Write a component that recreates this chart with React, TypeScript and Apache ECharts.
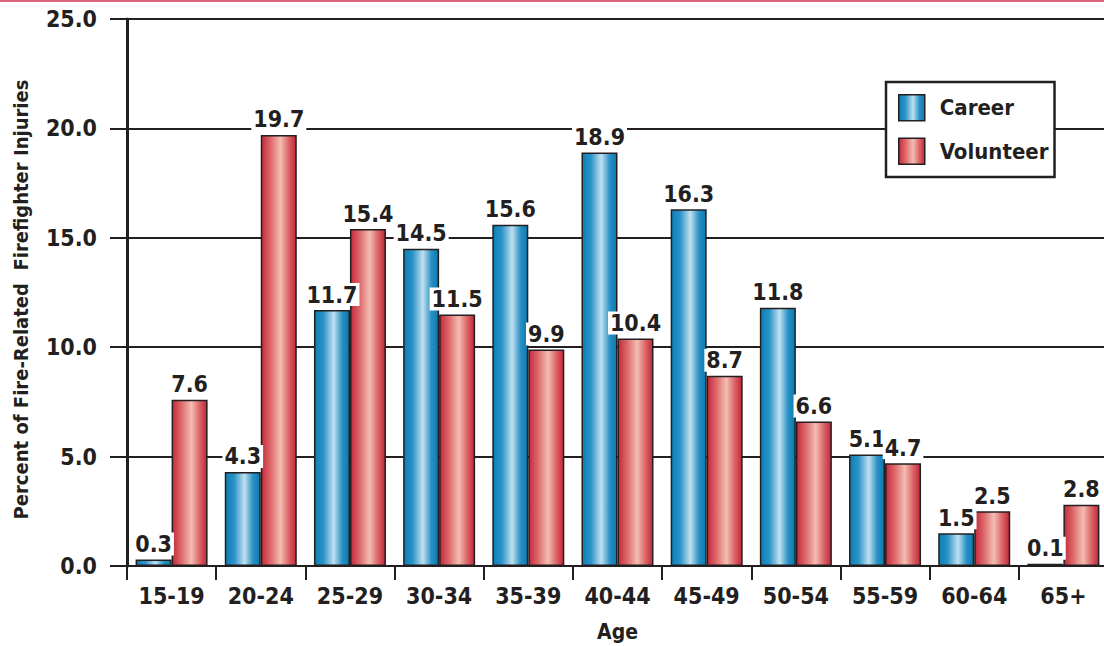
import React, { useEffect, useRef } from "react";
import * as echarts from "echarts";

// Share of fire-related firefighter injuries by age group (percent)
const ageGroups = ["15-19", "20-24", "25-29", "30-34", "35-39", "40-44", "45-49", "50-54", "55-59", "60-64", "65+"];
const career = [0.3, 4.3, 11.7, 14.5, 15.6, 18.9, 16.3, 11.8, 5.1, 1.5, 0.1];
const volunteer = [7.6, 19.7, 15.4, 11.5, 9.9, 10.4, 8.7, 6.6, 4.7, 2.5, 2.8];
const yTicks = [0, 5, 10, 15, 20, 25];

const FONT = '"DejaVu Sans Condensed", "Liberation Sans Narrow", sans-serif';
const INK = "#231f20";

const blueFill = new echarts.graphic.LinearGradient(0, 0, 1, 0, [
  { offset: 0, color: "#0b7fb7" },
  { offset: 0.25, color: "#2a93c7" },
  { offset: 0.55, color: "#c0e0f0" },
  { offset: 0.8, color: "#2890c4" },
  { offset: 1, color: "#0a7ab1" },
]);
const redFill = new echarts.graphic.LinearGradient(0, 0, 1, 0, [
  { offset: 0, color: "#c52a3b" },
  { offset: 0.25, color: "#dc6668" },
  { offset: 0.55, color: "#f3bdb3" },
  { offset: 0.8, color: "#da6163" },
  { offset: 1, color: "#c2263a" },
]);

const valueLabel = {
  show: true,
  position: "top" as const,
  distance: 4,
  formatter: (p: any) => Number(p.value).toFixed(1),
  color: INK,
  fontFamily: FONT,
  fontWeight: "bold" as const,
  fontSize: 23,
  backgroundColor: "#ffffff",
  padding: [0, 2, 0, 2],
};

export default function App() {
  const ref = useRef<HTMLDivElement>(null);

  useEffect(() => {
    if (!ref.current) return;
    const chart = echarts.init(ref.current, undefined, { renderer: "svg" });
    chart.setOption({
      animation: false,
      backgroundColor: "#ffffff",
      textStyle: { fontFamily: FONT, fontWeight: "bold", color: INK },
      graphic: [
        {
          type: "line",
          shape: { x1: 0, y1: 1, x2: 1104, y2: 1 },
          style: { stroke: "#e0667f", lineWidth: 2 },
        },
      ],
      grid: { left: 127, top: 19, width: 981, height: 547, outerBoundsMode: "none", containLabel: false },
      legend: {
        orient: "vertical",
        left: 886,
        top: 82,
        padding: [12, 6, 12, 12],
        itemWidth: 26,
        itemHeight: 26,
        itemGap: 16,
        backgroundColor: "#ffffff",
        borderColor: INK,
        borderWidth: 2.5,
        icon: "rect",
        textStyle: {
          fontFamily: FONT,
          fontWeight: "bold",
          fontSize: 22,
          color: INK,
          padding: [0, 0, 0, 10],
        },
        data: [
          { name: "Career", itemStyle: { color: blueFill, borderColor: INK, borderWidth: 1.5 } },
          { name: "Volunteer", itemStyle: { color: redFill, borderColor: INK, borderWidth: 1.5 } },
        ],
      },
      xAxis: {
        type: "category",
        data: ageGroups,
        name: "Age",
        nameLocation: "middle",
        nameGap: 55,
        nameTextStyle: { fontFamily: FONT, fontWeight: "bold", fontSize: 21, color: INK },
        axisLine: { lineStyle: { color: INK, width: 2 } },
        axisTick: { show: true, length: 14, lineStyle: { color: INK, width: 2 } },
        axisLabel: { margin: 18, fontFamily: FONT, fontWeight: "bold", fontSize: 23, color: INK },
      },
      yAxis: {
        type: "value",
        min: yTicks[0],
        max: yTicks[yTicks.length - 1],
        interval: 5,
        name: "Percent of Fire-Related  Firefighter Injuries",
        nameLocation: "middle",
        nameGap: 96,
        nameTextStyle: { fontFamily: FONT, fontWeight: "bold", fontSize: 20, color: INK, padding: [0, 14, 0, 0] },
        axisLine: { show: true, lineStyle: { color: INK, width: 3 } },
        axisTick: { show: true, length: 17, lineStyle: { color: INK, width: 2 } },
        splitLine: { show: true, lineStyle: { color: INK, width: 2 } },
        axisLabel: {
          margin: 30,
          formatter: (v: number) => v.toFixed(1),
          fontFamily: FONT,
          fontWeight: "bold",
          fontSize: 23,
          color: INK,
        },
      },
      series: [
        {
          name: "Career",
          type: "bar",
          data: career,
          barWidth: 36,
          barGap: "0%",
          itemStyle: { color: blueFill, borderColor: INK, borderWidth: 1.5 },
          label: valueLabel,
        },
        {
          name: "Volunteer",
          type: "bar",
          data: volunteer,
          barWidth: 36,
          barGap: "0%",
          itemStyle: { color: redFill, borderColor: INK, borderWidth: 1.5 },
          label: valueLabel,
        },
      ],
    });
    return () => chart.dispose();
  }, []);

  return (
    <div
      ref={ref}
      style={{ position: "fixed", left: 0, top: 0, width: 1104, height: 646 }}
    />
  );
}
